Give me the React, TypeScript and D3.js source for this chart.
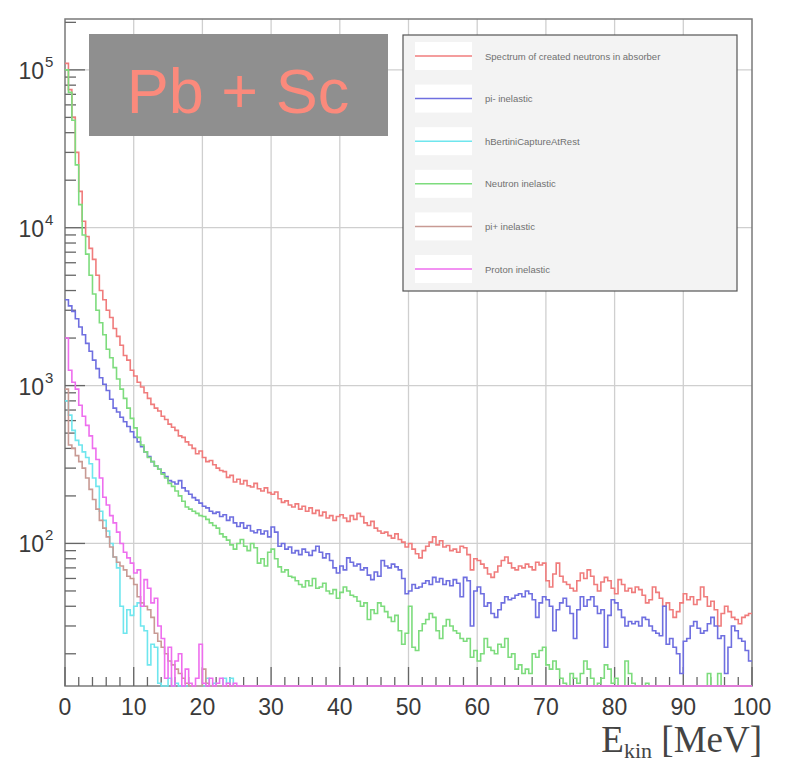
import React from "react";
import * as d3 from "d3";

// ---- data (bin width 0.5 MeV, first bin starts at 0 MeV) ----
const BIN_WIDTH = 0.5;
const X_TICKS = [0, 10, 20, 30, 40, 50, 60, 70, 80, 90, 100];
const Y_DECADES = [2, 3, 4, 5];

const seriesNames = [
  "Spectrum of created neutrons in absorber",
  "pi- inelastic",
  "hBertiniCaptureAtRest",
  "Neutron inelastic",
  "pi+ inelastic",
  "Proton inelastic",
];
const seriesColors = ["#f07c7c", "#6f6fe0", "#6fe6ee", "#7ddc7d", "#c89a94", "#ee6eee"];

const spectrum = [
  110000, 75000, 50000, 30000, 17000, 11000, 8800, 7400, 6300, 5000,
  4000, 3500, 3000, 2700, 2300, 2050, 1800, 1550, 1450, 1250,
  1150, 1050, 980, 900, 830, 760, 720, 690, 640, 610,
  570, 545, 520, 480, 470, 440, 420, 400, 370, 385,
  350, 330, 335, 315, 300, 290, 285, 262, 270, 245,
  255, 238, 250, 232, 228, 240, 222, 215, 225, 210,
  205, 212, 192, 182, 186, 175, 170, 178, 165, 172,
  160, 168, 155, 162, 150, 158, 145, 150, 140, 148,
  152, 145, 138, 150, 142, 155, 148, 135, 130, 138,
  125, 120, 116, 118, 112, 108, 115, 106, 102, 95,
  100, 92, 86, 81, 90, 96, 102, 110, 98, 104,
  95, 97, 90, 92, 88, 96, 94, 85, 68, 80,
  78, 74, 70, 64, 61, 66, 72, 78, 82, 75,
  70, 68, 72, 70, 74, 71, 68, 76, 73, 75,
  58, 53, 64, 75, 62, 57, 55, 52, 50, 58,
  65, 60, 68, 62, 55, 50, 57, 61, 58, 52,
  48, 59, 55, 50, 52, 49, 53, 51, 47, 42,
  44, 53, 49, 45, 40, 42, 38, 34, 37, 42,
  48, 44, 46, 41, 44, 53, 46, 40, 43, 38,
  30, 36, 40, 37, 34, 33, 31, 34, 35, 36,
];

const piMinus = [
  3500, 3200, 2950, 2650, 2350, 2100, 1850, 1650, 1450, 1280,
  1120, 1020, 930, 820, 720, 680, 630, 590, 550, 510,
  470, 440, 410, 380, 355, 330, 310, 295, 280, 265,
  250, 245, 238, 250, 225, 215, 205, 195, 188, 180,
  172, 168, 160, 155, 158, 148, 152, 140, 147, 135,
  128, 135, 125, 130, 120, 117, 122, 115, 120, 110,
  127, 118, 96, 100, 92, 95, 87, 90, 85, 92,
  88, 84, 90, 96, 88, 81, 86, 78, 70, 65,
  72, 68, 81, 76, 72, 74, 68, 70, 63, 59,
  66, 62, 78, 72, 70, 74, 71, 68, 60, 48,
  50, 55, 52, 53, 56, 58, 55, 61, 57, 60,
  55, 58, 54, 59, 56, 46, 61, 58, 30, 50,
  53, 48, 40, 42, 36, 34, 38, 42, 46, 44,
  45, 47, 48, 46, 50, 48, 44, 34, 42, 46,
  44, 40, 28, 38, 42, 45, 40, 36, 25, 38,
  46, 40, 44, 46, 40, 36, 38, 22, 35, 44,
  42, 38, 34, 30, 32, 31, 32, 30, 34, 33,
  30, 28, 27, 26, 40, 23, 25, 22, 20, 15,
  24, 25, 30, 32, 29, 27, 28, 31, 34, 30,
  25, 26, 15, 22, 30, 28, 25, 24, 21, 18,
];

const capture = [
  800, 650, 520, 450, 420, 380, 350, 320, 260, 230,
  160, 140, 120, 100, 82, 70, 40, 27, 38, 35,
  40, 42, 30, 28, 17, 23, 22, 13, 12, 0,
  14, 0, 13, 0, 0, 0, 0, 0, 0, 0,
  0, 14, 0, 13, 0, 0, 14, 13, 14, 0,
];

const neutron = [
  100000, 72000, 48000, 25000, 14000, 9000, 6800, 5000, 3800, 3000,
  2500, 2100, 1700, 1500, 1300, 1100, 950, 830, 720, 620,
  540, 470, 420, 380, 350, 330, 310, 295, 275, 260,
  240, 230, 215, 200, 185, 170, 165, 160, 155, 150,
  148, 142, 135, 130, 125, 115, 110, 105, 98, 92,
  100, 106, 96, 90, 100, 94, 75, 80, 72, 88,
  92, 80, 71, 66, 68, 62, 61, 58, 55, 53,
  58, 54, 60, 52, 53, 56, 50, 48, 51, 45,
  49, 53, 50, 47, 46, 43, 40, 42, 33, 38,
  36, 42, 40, 37, 34, 32, 35, 28, 23, 27,
  40, 22, 21, 28, 31, 33, 36, 34, 28, 25,
  30, 33, 30, 28, 27, 25, 24, 25, 19, 21,
  18, 20, 25, 22, 21, 20, 23, 22, 25, 19,
  20, 16, 17, 15, 16, 15, 20, 19, 21, 22,
  17, 16, 18, 16, 14, 13, 12, 15, 14, 13,
  15, 18, 16, 14, 11, 13, 14, 17, 16, 13,
  14, 10, 12, 18, 15, 13, 10, 8, 11, 13,
  9, 8, 12, 10, 7, 9, 11, 8, 6, 10,
  8, 12, 9, 7, 10, 8, 11, 15, 9, 7,
  15, 10, 6, 8, 7, 9, 6, 8, 7, 5,
];

const piPlus = [
  950, 420, 400, 360, 330, 300, 260, 220, 190, 165,
  140, 125, 110, 95, 82, 76, 72, 68, 62, 60,
  55, 46, 42, 40, 38, 34, 27, 24, 22, 20,
  18, 17, 16, 15, 14, 13, 0, 12, 0, 0,
  16, 13, 0, 0, 0, 0, 0, 0, 0, 0,
];

const proton = [
  2000, 1250, 1050, 950, 750, 640, 560, 480, 400, 340,
  260, 196, 175, 150, 135, 118, 100, 88, 81, 75,
  65, 68, 40, 59, 52, 42, 45, 30, 25, 14,
  22, 0, 18, 20, 0, 16, 13, 0, 14, 23,
  13, 0, 14, 0, 13, 14, 0, 13, 0, 13,
];

const allSeries = [spectrum, piMinus, capture, neutron, piPlus, proton];

// ---- layout ----
const W = 797;
const H = 765;
const X0 = 65, X1 = 752, YT = 19, YB = 686;
const YMIN = 12.5, YMAX = 2.1e5;
const NBINS = 200;

export default function App() {
  const x = d3.scaleLinear().domain([0, 100]).range([X0, X1]);
  const y = d3.scaleLog().domain([YMIN, YMAX]).range([YB, YT]);

  const line = d3
    .line<[number, number]>()
    .x((d) => x(d[0]))
    .y((d) => y(Math.max(d[1], YMIN)))
    .curve(d3.curveStepAfter);

  const pathFor = (vals: number[]) => {
    const pts: [number, number][] = [];
    for (let i = 0; i < NBINS; i++) {
      const v = i < vals.length ? vals[i] : 0; // bins past the array are empty
      pts.push([i * BIN_WIDTH, v]);
    }
    pts.push([NBINS * BIN_WIDTH, pts[pts.length - 1][1]]);
    return line(pts) || "";
  };

  const minorX: number[] = d3.range(0, 100.001, 2).filter((v) => v % 10 !== 0);
  const minorY: number[] = [];
  for (let e = 1; e <= 5; e++) {
    for (let m = 2; m <= 9; m++) {
      const v = m * Math.pow(10, e);
      if (v > YMIN && v < YMAX) minorY.push(v);
    }
  }

  const legendX = 403, legendY = 35, legendW = 334, legendH = 256;
  const rowY = (i: number) => 56 + i * 42.6;

  return (
    <svg
      width={W}
      height={H}
      style={{ position: "absolute", left: 0, top: 0, background: "#fff" }}
      fontFamily="'Liberation Sans', Arial, sans-serif"
    >
      <defs>
        <clipPath id="plotClip">
          <rect x={X0} y={YT} width={X1 - X0} height={YB - YT + 2} />
        </clipPath>
      </defs>
      <rect x={0} y={0} width={W} height={H} fill="#fff" />

      {/* grid */}
      {X_TICKS.filter((v) => v > 0 && v < 100).map((v) => (
        <line key={"gx" + v} x1={x(v)} x2={x(v)} y1={YT} y2={YB} stroke="#cfcfcf" strokeWidth={1.3} />
      ))}
      {Y_DECADES.map((e) => (
        <line key={"gy" + e} x1={X0} x2={X1} y1={y(Math.pow(10, e))} y2={y(Math.pow(10, e))} stroke="#cfcfcf" strokeWidth={1.3} />
      ))}

      {/* frame */}
      <rect x={X0} y={YT} width={X1 - X0} height={YB - YT} fill="none" stroke="#7a7a7a" strokeWidth={1.5} />

      {/* x ticks */}
      {X_TICKS.map((v) => (
        <line key={"tx" + v} x1={x(v)} x2={x(v)} y1={YB} y2={YB - 19} stroke="#666" strokeWidth={1.3} />
      ))}
      {minorX.map((v) => (
        <line key={"mx" + v} x1={x(v)} x2={x(v)} y1={YB} y2={YB - 9} stroke="#666" strokeWidth={1.3} />
      ))}
      {/* y ticks */}
      {Y_DECADES.map((e) => (
        <line key={"ty" + e} x1={X0} x2={X0 + 20} y1={y(Math.pow(10, e))} y2={y(Math.pow(10, e))} stroke="#666" strokeWidth={1.3} />
      ))}
      {minorY.map((v) => (
        <line key={"my" + v} x1={X0} x2={X0 + 11} y1={y(v)} y2={y(v)} stroke="#666" strokeWidth={1.3} />
      ))}

      {/* histograms (drawn over the frame, like ROOT) */}
      <g clipPath="url(#plotClip)" fill="none">
        {allSeries.map((vals, i) => (
          <path key={"s" + i} d={pathFor(vals)} stroke={seriesColors[i]} strokeWidth={1.6} strokeLinejoin="miter" />
        ))}
      </g>

      {/* x tick labels */}
      {X_TICKS.map((v) => (
        <text key={"lx" + v} x={x(v)} y={715} textAnchor="middle" fontSize={23} fill="#3a3a3a">
          {v}
        </text>
      ))}
      {/* y tick labels */}
      {Y_DECADES.map((e) => (
        <g key={"ly" + e}>
          <text x={44} y={y(Math.pow(10, e)) + 9} textAnchor="end" fontSize={23} fill="#3a3a3a">
            10
          </text>
          <text x={45} y={y(Math.pow(10, e)) - 3} textAnchor="start" fontSize={15} fill="#3a3a3a">
            {e}
          </text>
        </g>
      ))}

      {/* x axis title */}
      <text x={762} y={752} textAnchor="end" fontFamily="'Liberation Serif', 'Times New Roman', serif" fontSize={37} fill="#444">
        E
        <tspan fontSize={22} dy={6}>kin</tspan>
        <tspan dy={-6}> [MeV]</tspan>
      </text>

      {/* legend */}
      <rect x={legendX} y={legendY} width={legendW} height={legendH} fill="#f3f3f3" stroke="#555" strokeWidth={1.2} />
      {seriesNames.map((name, i) => (
        <g key={"lg" + i}>
          <rect x={415} y={rowY(i) - 14} width={57} height={28} fill="#fff" />
          <line x1={415} x2={472} y1={rowY(i)} y2={rowY(i)} stroke={seriesColors[i]} strokeWidth={1.5} />
          <text x={485} y={rowY(i) + 3.5} fontSize={9.5} fill="#707070">
            {name}
          </text>
        </g>
      ))}

      {/* label box */}
      <rect x={89} y={34} width={299} height={102} fill="#8f8f8f" />
      <text x={238} y={113} textAnchor="middle" fontSize={63} fill="#fb8a7c">
        Pb + Sc
      </text>
    </svg>
  );
}
